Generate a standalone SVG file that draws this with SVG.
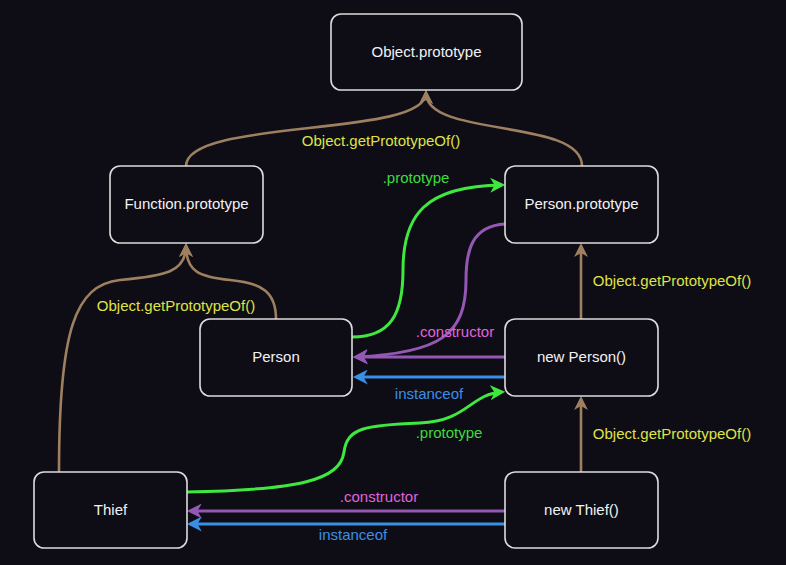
<svg xmlns="http://www.w3.org/2000/svg" width="786" height="565" viewBox="0 0 786 565">
<defs>
<style>
.node rect{fill:#0e0d16;stroke:#dcdcdc;stroke-width:1.6}
.node text{font-family:"Liberation Sans",Arial,sans-serif;font-size:15px;fill:#f2f2f2;text-anchor:middle}
.e{fill:none;stroke-width:3}
.tan{stroke:#9e8060;stroke-width:2.6}
.grn{stroke:#3fe83f}
.pur{stroke:#9458b4}
.blu{stroke:#3a8fe6}
.lbl{font-family:"Liberation Sans",Arial,sans-serif;font-size:15px;text-anchor:middle}
.ly{fill:#dfe346}
.lg{fill:#3ddc3d}
.lp{fill:#e064dc}
.lb{fill:#3a8fe6}
</style>
<marker id="mTan" viewBox="0 0 14 14" refX="11" refY="7" markerWidth="14" markerHeight="14" markerUnits="userSpaceOnUse" orient="auto"><path d="M0,0 L14,7 L0,14 L4,7 z" fill="#9e8060"/></marker>
<marker id="mGrn" viewBox="0 0 14 14" refX="11" refY="7" markerWidth="15" markerHeight="15" markerUnits="userSpaceOnUse" orient="auto"><path d="M0,0 L14,7 L0,14 L4,7 z" fill="#3fe83f"/></marker>
<marker id="mPur" viewBox="0 0 14 14" refX="11" refY="7" markerWidth="15" markerHeight="15" markerUnits="userSpaceOnUse" orient="auto"><path d="M0,0 L14,7 L0,14 L4,7 z" fill="#9458b4"/></marker>
<marker id="mBlu" viewBox="0 0 14 14" refX="11" refY="7" markerWidth="15" markerHeight="15" markerUnits="userSpaceOnUse" orient="auto"><path d="M0,0 L14,7 L0,14 L4,7 z" fill="#3a8fe6"/></marker>
</defs>
<rect x="0" y="0" width="786" height="565" fill="#0e0d16"/>
<g id="connectors">
<path class="e tan" d="M186,166 C186,118 426,138 426,93" marker-end="url(#mTan)"/>
<path class="e tan" d="M582,166 C582,118 426,138 426,93" marker-end="url(#mTan)"/>
<path class="e tan" d="M59,472 C59,330 75,285 120,280 C165,276 186,272 186,246" marker-end="url(#mTan)"/>
<path class="e tan" d="M276,319 C276,292 262,283 230,280 C200,277 186,272 186,246" marker-end="url(#mTan)"/>
<path class="e tan" d="M581,319 L581,246" marker-end="url(#mTan)"/>
<path class="e tan" d="M581,472 L581,399" marker-end="url(#mTan)"/>
<path class="e grn" d="M352,337 C390,337 403,315 403,270 C403,215 425,186 502,185" marker-end="url(#mGrn)"/>
<path class="e pur" d="M505,224 C472,226 466,250 466,280 C466,335 440,353 356,357" marker-end="url(#mPur)"/>
<path class="e pur" d="M505,357 L356,357" marker-end="url(#mPur)"/>
<path class="e blu" d="M505,377 L356,377" marker-end="url(#mBlu)"/>
<path class="e grn" d="M187,492 C300,490 340,480 344,452 C347,428 365,425 420,423 C468,421 470,394 502,392" marker-end="url(#mGrn)"/>
<path class="e pur" d="M505,511 L190,511" marker-end="url(#mPur)"/>
<path class="e blu" d="M505,524 L190,524" marker-end="url(#mBlu)"/>
<text class="lbl ly" x="381" y="146">Object.getPrototypeOf()</text>
<text class="lbl ly" x="176" y="311">Object.getPrototypeOf()</text>
<text class="lbl ly" x="672" y="286">Object.getPrototypeOf()</text>
<text class="lbl ly" x="672" y="439">Object.getPrototypeOf()</text>
<text class="lbl lg" x="416" y="183">.prototype</text>
<text class="lbl lp" x="455" y="337">.constructor</text>
<text class="lbl lb" x="429" y="399">instanceof</text>
<text class="lbl lg" x="449" y="438">.prototype</text>
<text class="lbl lp" x="379" y="502">.constructor</text>
<text class="lbl lb" x="353" y="540">instanceof</text>
</g>
<g id="object-prototype" class="node"><rect x="331" y="14" width="191" height="76" rx="10"/><text x="426.5" y="57">Object.prototype</text></g>
<g id="function-prototype" class="node"><rect x="110" y="166" width="153" height="77" rx="10"/><text x="186.5" y="209">Function.prototype</text></g>
<g id="person-prototype" class="node"><rect x="505" y="166" width="153" height="77" rx="10"/><text x="581.5" y="209">Person.prototype</text></g>
<g id="person" class="node"><rect x="200" y="319" width="152" height="77" rx="10"/><text x="276" y="362">Person</text></g>
<g id="new-person" class="node"><rect x="505" y="319" width="153" height="77" rx="10"/><text x="581.5" y="362">new Person()</text></g>
<g id="thief" class="node"><rect x="34" y="472" width="153" height="76" rx="10"/><text x="110.5" y="515">Thief</text></g>
<g id="new-thief" class="node"><rect x="505" y="472" width="153" height="76" rx="10"/><text x="581.5" y="515">new Thief()</text></g>
</svg>
